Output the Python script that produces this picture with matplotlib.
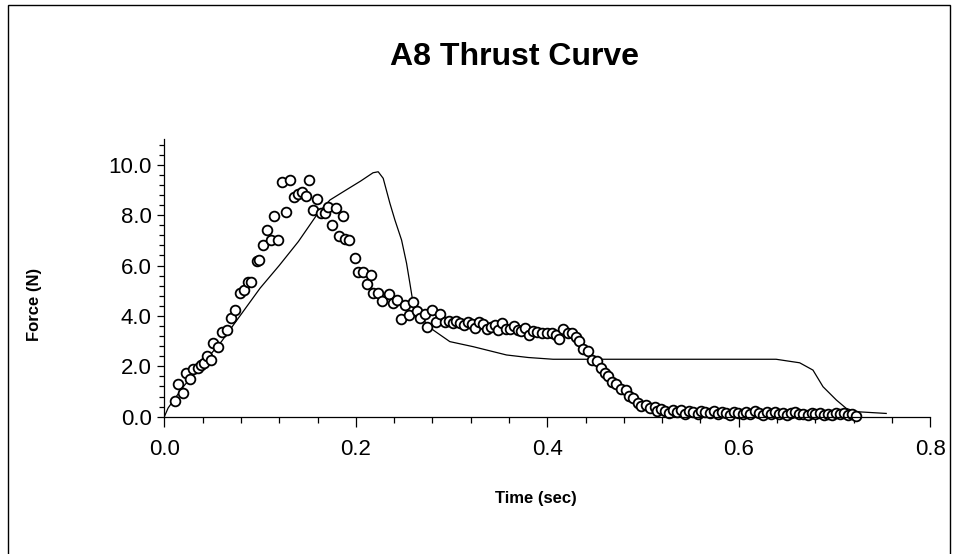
"""A8 thrust curve: measured samples (open circles) against the rated curve (line)."""

import matplotlib

matplotlib.use("Agg")
import matplotlib.pyplot as plt
from matplotlib.patches import Rectangle
from matplotlib.ticker import FixedLocator, FormatStrFormatter

meas_t = [
    0.0112, 0.0146, 0.0198, 0.0223, 0.0268, 0.0303, 0.0349, 0.0383, 0.0418, 0.0443,
    0.0484, 0.0511, 0.0557, 0.0605, 0.0651, 0.0695, 0.0738, 0.0790, 0.0832, 0.0877,
    0.0902, 0.0965, 0.0992, 0.1027, 0.1075, 0.1111, 0.1148, 0.1190, 0.1225, 0.1270,
    0.1312, 0.1354, 0.1399, 0.1434, 0.1479, 0.1510, 0.1549, 0.1591, 0.1633, 0.1677,
    0.1712, 0.1747, 0.1792, 0.1827, 0.1868, 0.1885, 0.1925, 0.1990, 0.2025, 0.2071,
    0.2113, 0.2154, 0.2182, 0.2234, 0.2269, 0.2349, 0.2384, 0.2432, 0.2468, 0.2513,
    0.2554, 0.2599, 0.2641, 0.2669, 0.2721, 0.2745, 0.2791, 0.2836, 0.2878, 0.2930,
    0.2970, 0.3010, 0.3050, 0.3090, 0.3130, 0.3170, 0.3210, 0.3250, 0.3290, 0.3330,
    0.3370, 0.3410, 0.3450, 0.3490, 0.3530, 0.3570, 0.3610, 0.3650, 0.3690, 0.3730,
    0.3770, 0.3810, 0.3850, 0.3890, 0.3940, 0.3992, 0.4044, 0.4089, 0.4123, 0.4165,
    0.4217, 0.4263, 0.4298, 0.4332, 0.4374, 0.4426, 0.4472, 0.4520, 0.4566, 0.4600,
    0.4635, 0.4680, 0.4722, 0.4775, 0.4819, 0.4854, 0.4896, 0.4948, 0.4983, 0.5028,
    0.5070, 0.5122, 0.5146, 0.5185, 0.5228, 0.5270, 0.5310, 0.5355, 0.5400, 0.5440,
    0.5480, 0.5525, 0.5570, 0.5610, 0.5650, 0.5695, 0.5740, 0.5780, 0.5820, 0.5865,
    0.5910, 0.5950, 0.5995, 0.6040, 0.6080, 0.6120, 0.6165, 0.6210, 0.6250, 0.6290,
    0.6335, 0.6380, 0.6420, 0.6460, 0.6505, 0.6550, 0.6590, 0.6630, 0.6675, 0.6720,
    0.6760, 0.6800, 0.6845, 0.6890, 0.6930, 0.6970, 0.7015, 0.7060, 0.7100, 0.7140,
    0.7185, 0.7227,
]
meas_f = [
    0.62, 1.29, 0.93, 1.72, 1.48, 1.88, 1.94, 2.05, 2.14, 2.41,
    2.25, 2.94, 2.75, 3.37, 3.44, 3.90, 4.23, 4.92, 5.03, 5.33,
    5.36, 6.18, 6.22, 6.81, 7.41, 7.01, 7.98, 7.01, 9.33, 8.11,
    9.39, 8.73, 8.83, 8.93, 8.77, 9.39, 8.20, 8.64, 8.07, 8.07,
    8.33, 7.61, 8.29, 7.18, 7.98, 7.05, 7.00, 6.29, 5.75, 5.75,
    5.25, 5.62, 4.92, 4.92, 4.59, 4.86, 4.52, 4.63, 3.87, 4.43,
    4.04, 4.56, 4.21, 3.93, 4.08, 3.55, 4.23, 3.77, 4.08, 3.77,
    3.80, 3.72, 3.78, 3.70, 3.62, 3.75, 3.68, 3.52, 3.74, 3.66,
    3.48, 3.55, 3.62, 3.45, 3.70, 3.50, 3.48, 3.60, 3.45, 3.40,
    3.52, 3.25, 3.42, 3.38, 3.31, 3.33, 3.31, 3.24, 3.07, 3.47,
    3.33, 3.31, 3.17, 3.02, 2.67, 2.62, 2.25, 2.22, 1.92, 1.75,
    1.62, 1.39, 1.30, 1.09, 1.06, 0.82, 0.73, 0.56, 0.42, 0.46,
    0.33, 0.40, 0.24, 0.30, 0.22, 0.14, 0.28, 0.18, 0.25, 0.12,
    0.22, 0.20, 0.10, 0.24, 0.18, 0.15, 0.22, 0.12, 0.20, 0.16,
    0.08, 0.20, 0.14, 0.10, 0.18, 0.12, 0.22, 0.14, 0.08, 0.18,
    0.12, 0.20, 0.10, 0.16, 0.08, 0.14, 0.18, 0.10, 0.12, 0.06,
    0.14, 0.10, 0.16, 0.08, 0.12, 0.06, 0.14, 0.10, 0.16, 0.08,
    0.12, 0.04,
]

# rated curve vertices
rated_t = [
    0.0, 0.004, 0.02, 0.04, 0.06, 0.079, 0.10, 0.12, 0.14, 0.16,
    0.173, 0.19, 0.205, 0.218, 0.2234, 0.2286, 0.2356, 0.2408, 0.2478, 0.253,
    0.2565, 0.2593, 0.2635, 0.2704, 0.2808, 0.2982, 0.3225, 0.3574, 0.38, 0.406,
    0.639, 0.653, 0.6636, 0.6775, 0.688, 0.702, 0.7123, 0.7228, 0.754,
]
rated_f = [
    0.0, 0.35, 1.2, 2.1, 3.0, 4.0, 5.1, 6.0, 6.95, 8.05,
    8.6, 9.0, 9.35, 9.68, 9.72, 9.46, 8.47, 7.81, 7.01, 6.09,
    5.29, 4.63, 4.10, 3.84, 3.44, 2.98, 2.78, 2.45, 2.35, 2.28,
    2.28, 2.20, 2.14, 1.85, 1.19, 0.66, 0.33, 0.20, 0.13,
]

x_major = [0.0, 0.2, 0.4, 0.6, 0.8]
y_major = [0.0, 2.0, 4.0, 6.0, 8.0, 10.0]

plt.rcParams["font.family"] = ["Liberation Sans", "DejaVu Sans"]

fig = plt.figure(figsize=(9.61, 5.54), dpi=100)
fig.patches.append(Rectangle((8 / 961, -0.05), 942 / 961, 1.05 - 5 / 554, transform=fig.transFigure,
                             fill=False, edgecolor="black", linewidth=1.0))

ax = fig.add_axes([0.171, 0.2478, 0.797, 0.5004])
ax.plot(rated_t, rated_f, color="black", linewidth=0.9)
ax.plot(meas_t, meas_f, linestyle="none", marker="o", markersize=7, markerfacecolor="white",
        markeredgecolor="black", markeredgewidth=1.3, clip_on=False)

ax.set_xlim(0, 0.8)
ax.set_ylim(0, 11)
for side in ("top", "right"):
    ax.spines[side].set_visible(False)
ax.spines["left"].set_linewidth(0.9)
ax.spines["bottom"].set_linewidth(0.9)

ax.xaxis.set_major_locator(FixedLocator(x_major))
ax.xaxis.set_minor_locator(FixedLocator([i * 0.04 for i in range(21)]))
ax.yaxis.set_major_locator(FixedLocator(y_major))
ax.yaxis.set_minor_locator(FixedLocator([i * 0.4 for i in range(28)]))
ax.xaxis.set_major_formatter(FormatStrFormatter("%.1f"))
ax.yaxis.set_major_formatter(FormatStrFormatter("%.1f"))
ax.tick_params(axis="x", which="major", length=7, width=0.9, labelsize=16, pad=9)
ax.tick_params(axis="x", which="minor", length=4, width=0.9)
ax.tick_params(axis="y", which="major", length=5, width=0.9, labelsize=16, pad=4)
ax.tick_params(axis="y", which="minor", length=3.5, width=0.9)

fig.text(0.535, 0.897, "A8 Thrust Curve", ha="center", va="center", fontsize=23, fontweight="bold")
fig.text(0.558, 0.100, "Time (sec)", ha="center", va="center", fontsize=12, fontweight="bold")
fig.text(0.036, 0.45, "Force (N)", ha="center", va="center", rotation=90, fontsize=12, fontweight="bold")

fig.savefig("out.png", dpi=100)
